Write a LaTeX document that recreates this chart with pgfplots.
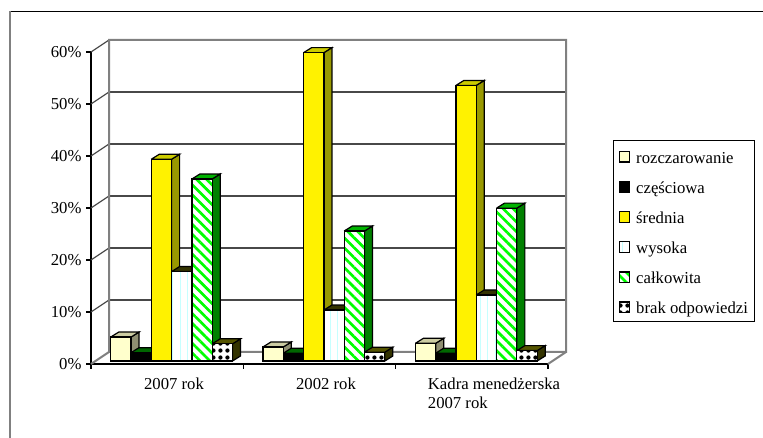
\documentclass[border=0pt]{standalone}
\usepackage{pgfplots}
\pgfplotsset{compat=1.18}
\usepackage{fontspec}
\setmainfont{Liberation Serif}
\usetikzlibrary{patterns.meta}
\definecolor{cream}{HTML}{FFFFCC}
\definecolor{creamS}{HTML}{8F8F72}
\definecolor{creamT}{HTML}{CCCCA3}
\definecolor{yelS}{HTML}{999900}
\definecolor{yelT}{HTML}{CCCC00}
\definecolor{blkT}{HTML}{006600}
\definecolor{whiT}{HTML}{333300}
\definecolor{grnS}{HTML}{008000}
\definecolor{grnT}{HTML}{00B300}
\definecolor{brkS}{HTML}{333300}
\definecolor{brkT}{HTML}{555500}
\definecolor{wall}{HTML}{808080}
\definecolor{grid}{HTML}{484848}
\newcommand{\leg}[1]{\rule[-16.5pt]{0pt}{41.1pt}\hspace*{4pt}\raisebox{4pt}{#1}}
\tikzset{
  patWhite/.style={preaction={fill=white},pattern color=cyan!22,pattern={Lines[angle=90,distance=7.5pt,line width=0.7pt]}},
  patGreen/.style={preaction={fill=white},pattern color=green,pattern={Lines[angle=-45,distance=7pt,line width=2.7pt]}},
  patBrak/.style={preaction={fill=white},pattern color=black,pattern={Dots[distance=7.4pt,radius=2.3pt]}},
}
% side and top faces of one bar: left edge (px), value (%)
\newcommand{\barfaces}[4]{%
  \pgfmathsetmacro{\xr}{#1+20.3}%
  \pgfmathsetmacro{\xrb}{#1+28.3}%
  \pgfmathsetmacro{\xlb}{#1+8}%
  \pgfmathsetmacro{\vb}{#2+0.96}%
  \addplot[bar3d,fill=#3] coordinates {(\xr,0)(\xr,#2)(\xrb,\vb)(\xrb,0.96)(\xr,0)};
  \addplot[bar3d,fill=#4] coordinates {(#1,#2)(\xlb,\vb)(\xrb,\vb)(\xr,#2)(#1,#2)};
}
\begin{document}
\begin{tikzpicture}[x=1pt,y=1pt]
\path[use as bounding box] (0,0) rectangle (763,438);
\fill[white] (0,0) rectangle (763,438);
\draw[black,line width=1.3pt] (9,426.5) -- (763,426.5);
\draw[wall,line width=2pt] (9.5,427) -- (9.5,0);
\begin{axis}[
  at={(91pt,74pt)},anchor=south west,
  scale only axis,width=457pt,height=312pt,
  xmin=0,xmax=457,ymin=0,ymax=60,
  clip=false,
  axis x line=bottom,axis y line=left,
  axis line style={black,line width=1.2pt,-},
  tick style={black,line width=1.1pt},
  tick align=outside,major tick length=5pt,
  xtick={0,152.33,304.67,457},xticklabels={},
  extra x ticks={83,235,403},
  extra x tick labels={2007 rok,2002 rok,{Kadra menedżerska\\2007 rok}},
  extra x tick style={major tick length=0pt,
    tick label style={align=left,anchor=north,yshift=-10pt,font=\fontsize{16.7}{19}\selectfont}},
  ytick={0,10,20,30,40,50,60},
  yticklabel={\pgfmathprintnumber[assume math mode=true]{\tick}\%},
  yticklabel style={font=\fontsize{16.7}{19.5}\selectfont,xshift=-1pt},
  bar3d/.style={forget plot,no markers,sharp plot,draw=black,line width=1.2pt,line join=miter,yshift=3pt},
  front/.style={forget plot,ybar,bar width=20.3pt,bar shift=0pt,draw=black,line width=1.2pt,yshift=3pt},
  wallline/.style={forget plot,no markers,sharp plot,draw=grid,line width=1.2pt},
  wallgray/.style={forget plot,no markers,sharp plot,draw=wall,line width=2pt},
  legend image code/.code={\draw[line width=1.2pt,#1] (0.5pt,-6.5pt) rectangle (11pt,4pt);},
  legend style={at={(axis cs:522,43.08)},anchor=north west,draw=black,line width=1pt,
    font=\fontsize{16.7}{19.5}\selectfont,
    inner xsep=5pt,inner ysep=0pt,
    cells={anchor=west}},
]
% back wall: gridlines and depth lines
\addplot[wallline] coordinates {(18,12.31)(475,12.31)};
\addplot[wallline] coordinates {(18,22.31)(475,22.31)};
\addplot[wallline] coordinates {(18,32.31)(475,32.31)};
\addplot[wallline] coordinates {(18,42.31)(475,42.31)};
\addplot[wallline] coordinates {(18,52.31)(475,52.31)};
\addplot[wallline] coordinates {(0,10)(18,12.31)};
\addplot[wallline] coordinates {(0,20)(18,22.31)};
\addplot[wallline] coordinates {(0,30)(18,32.31)};
\addplot[wallline] coordinates {(0,40)(18,42.31)};
\addplot[wallline] coordinates {(0,50)(18,52.31)};
\addplot[wallline] coordinates {(0,60)(18,62.31)};
\addplot[wallgray] coordinates {(0,0)(18,2.31)(18,62.31)(475,62.31)(475,2.31)(18,2.31)};
\addplot[wallgray] coordinates {(457,0)(475,2.31)};
% rozczarowanie
\barfaces{19.7}{4.6}{creamS}{creamT}
\barfaces{172.03}{2.7}{creamS}{creamT}
\barfaces{324.37}{3.4}{creamS}{creamT}
\addplot[front,fill=cream] coordinates {(29.85,4.6)(182.18,2.7)(334.52,3.4)};
% czesciowa
\barfaces{40}{1.6}{black}{blkT}
\barfaces{192.33}{1.5}{black}{blkT}
\barfaces{344.67}{1.5}{black}{blkT}
\addplot[front,fill=black] coordinates {(50.15,1.6)(202.48,1.5)(354.82,1.5)};
% srednia
\barfaces{60.3}{38.8}{yelS}{yelT}
\barfaces{212.63}{59.3}{yelS}{yelT}
\barfaces{364.97}{53}{yelS}{yelT}
\addplot[front,fill=yellow] coordinates {(70.45,38.8)(222.78,59.3)(375.12,53)};
% wysoka
\barfaces{80.6}{17.2}{brkS}{whiT}
\barfaces{232.93}{9.8}{brkS}{whiT}
\barfaces{385.27}{12.7}{brkS}{whiT}
\addplot[front,patWhite] coordinates {(90.75,17.2)(243.08,9.8)(395.42,12.7)};
% calkowita
\barfaces{100.9}{35}{grnS}{grnT}
\barfaces{253.23}{25}{grnS}{grnT}
\barfaces{405.57}{29.4}{grnS}{grnT}
\addplot[front,patGreen] coordinates {(111.05,35)(263.38,25)(415.72,29.4)};
% brak odpowiedzi
\barfaces{121.2}{3.3}{brkS}{brkT}
\barfaces{273.53}{1.7}{brkS}{brkT}
\barfaces{425.87}{2}{brkS}{brkT}
\addplot[front,patBrak] coordinates {(131.35,3.3)(283.68,1.7)(436.02,2)};
% legend
\addlegendimage{draw=black,fill=cream}
\addlegendentry{\leg{rozczarowanie}}
\addlegendimage{draw=black,fill=black}
\addlegendentry{\leg{częściowa}}
\addlegendimage{draw=black,fill=yellow}
\addlegendentry{\leg{średnia}}
\addlegendimage{draw=black,patWhite}
\addlegendentry{\leg{wysoka}}
\addlegendimage{draw=black,patGreen}
\addlegendentry{\leg{całkowita}}
\addlegendimage{draw=black,patBrak}
\addlegendentry{\leg{brak odpowiedzi}}
\end{axis}
\end{tikzpicture}
\end{document}
